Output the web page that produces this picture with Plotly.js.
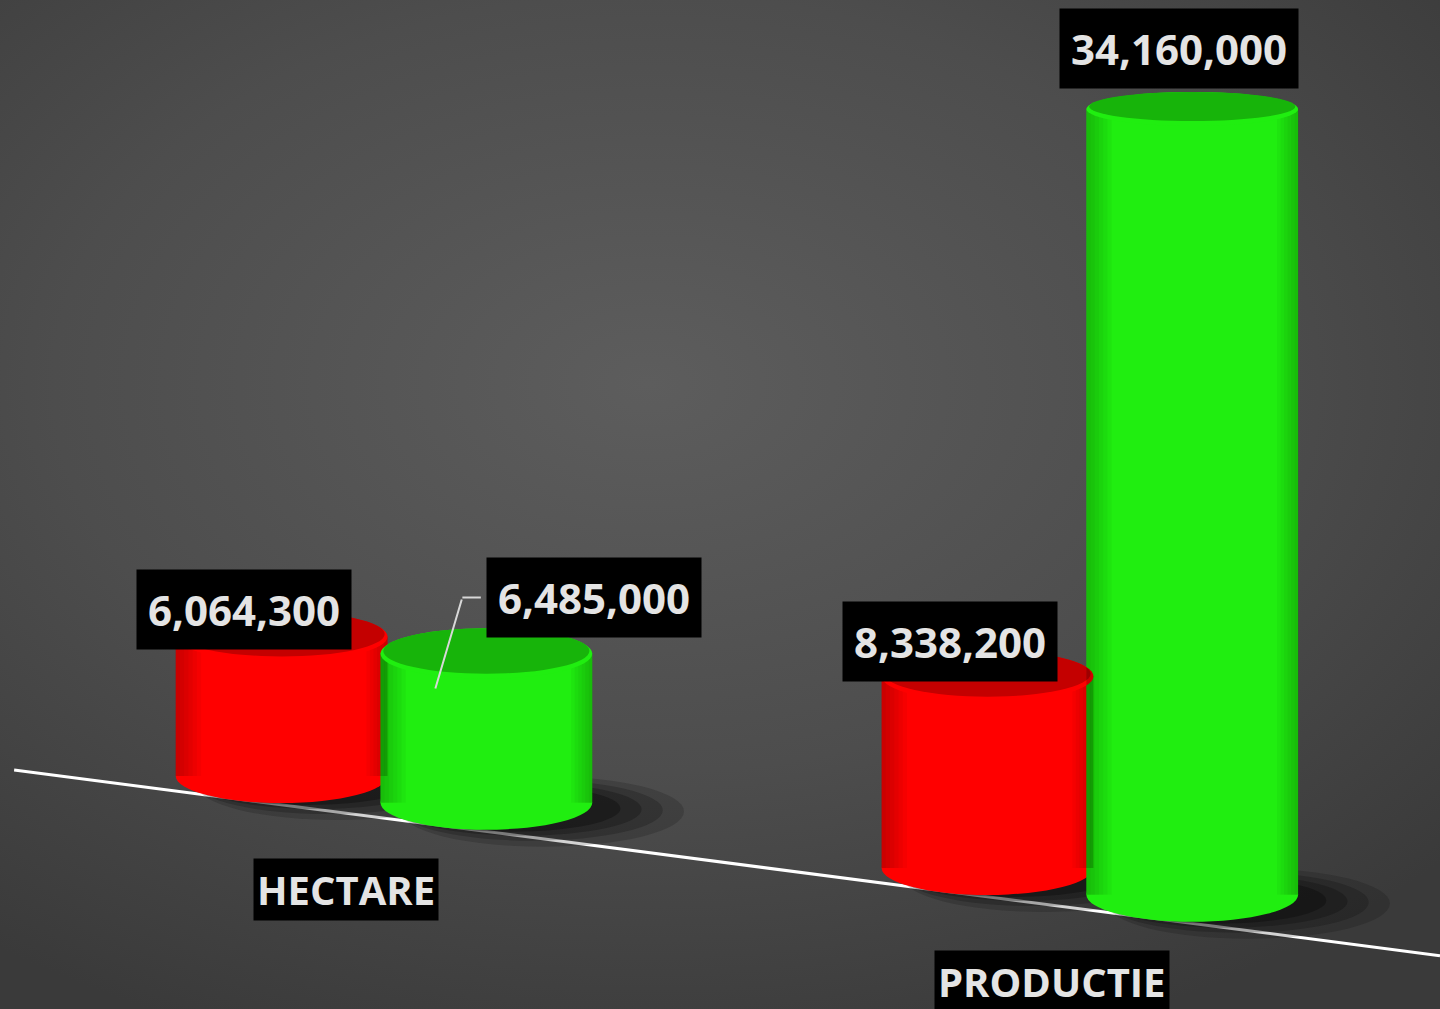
<!DOCTYPE html>
<html>
<head>
<meta charset="utf-8">
<script src="https://cdn.plot.ly/plotly-3.0.1.min.js"></script>
<style>
  html, body { margin: 0; padding: 0; width: 1440px; height: 1009px; overflow: hidden;
    background: radial-gradient(ellipse 75% 70% at 45% 38%, #5d5d5d 0%, #4d4d4d 55%, #3a3a3a 100%); }
  #chart { width: 1440px; height: 1009px; }
</style>
</head>
<body>
<div id="chart"></div>
<script>
// ---- data ----
const categories = ['HECTARE', 'PRODUCTIE'];
const seriesRed = [6064300, 8338200];
const seriesGreen = [6485000, 34160000];

// ---- styling / layout constants ----
const W = 1440, H = 1009;
const XR = [-0.544, 1.496];
const YR = [-10.13e6, 33.74e6];
const PX = (YR[1] - YR[0]) / H;        // value units per pixel (for cap ellipses)
const BAR_W = 0.30;
const OFF = 0.145;
const TILT = 4.0e6;
const baseAt = x => -TILT * (x + OFF);
const RED = '#ff0000', RED_TOP = '#c40000';
const GREEN = '#20ee10', GREEN_TOP = '#17b40a';
const FONT = 'Open Sans, DejaVu Sans, sans-serif';
const LABEL_FONT = { family: FONT, size: 42, color: '#e4e4e4', weight: 'bold' };

const idx = categories.map((c, i) => i);
const redX = idx.map(i => i - OFF);
const greenX = idx.map(i => i + OFF);
const redBase = redX.map(baseAt);
const greenBase = greenX.map(baseAt);

const traces = [
  { type: 'bar', x: redX, y: seriesRed, base: redBase, width: BAR_W,
    marker: { color: RED, line: { width: 0 } }, hoverinfo: 'skip', showlegend: false },
  { type: 'bar', x: greenX, y: seriesGreen, base: greenBase, width: BAR_W,
    marker: { color: GREEN, line: { width: 0 } }, hoverinfo: 'skip', showlegend: false }
];

const shapes = [];
const annotations = [];
const topRadius = top => Math.max(16, 27 - 10 * top / 29e6);

function oval(layer, x0, x1, y0, y1, color) {
  return { type: 'circle', layer: layer, xref: 'x', yref: 'y', x0: x0, x1: x1, y0: y0, y1: y1,
    fillcolor: color, line: { width: 0 } };
}

// floor line
shapes.push({ type: 'line', layer: 'below', xref: 'x', yref: 'y',
  x0: -0.524, x1: XR[1], y0: baseAt(-0.524) - 1.25e6, y1: baseAt(XR[1]) - 1.25e6,
  line: { color: '#ffffff', width: 3 } });

function addCylinder(xc, base, val, side, topc) {
  const top = base + val;
  const L = xc - BAR_W / 2, R = xc + BAR_W / 2;
  // soft shadow behind the foot
  [[0.13, 44, 0.18], [0.10, 38, 0.22], [0.07, 33, 0.28], [0.04, 29, 0.35]].forEach(([ext, r, a]) =>
    shapes.push(oval('below', L + 0.03, R + ext, base - r * PX, base + r * 0.6 * PX, 'rgba(10,10,10,' + a + ')')));
  // rounded foot (under the bar)
  shapes.push(oval('below', L, R, base - 27 * PX, base + 27 * PX, side));
  // side shading: darker toward both edges
  for (let k = 0; k < 6; k++) {
    const wl = 0.006 * (k + 1), wr = 0.005 * (k + 1);
    shapes.push({ type: 'rect', layer: 'above', xref: 'x', yref: 'y', x0: L, x1: L + wl, y0: base, y1: top,
      fillcolor: 'rgba(0,0,0,0.035)', line: { width: 0 } });
    shapes.push({ type: 'rect', layer: 'above', xref: 'x', yref: 'y', x0: R - wr, x1: R, y0: base, y1: top,
      fillcolor: 'rgba(0,0,0,0.035)', line: { width: 0 } });
  }
  // top cap: rim then darker lid
  const r = topRadius(top);
  shapes.push(oval('above', L, R, top - r * PX, top + r * PX, side));
  shapes.push(oval('above', L + 0.004, R - 0.004, top - (r - 5) * PX, top + r * PX, topc));
}

idx.forEach(i => {
  addCylinder(redX[i], redBase[i], seriesRed[i], RED, RED_TOP);
  addCylinder(greenX[i], greenBase[i], seriesGreen[i], GREEN, GREEN_TOP);
});

const fmt = v => v.toLocaleString('en-US');
const redShift = [[-38, 27], [-38, 35]];
idx.forEach(i => {
  annotations.push({ xref: 'x', yref: 'y', x: redX[i], y: redBase[i] + seriesRed[i],
    text: fmt(seriesRed[i]), showarrow: false, xshift: redShift[i][0], yshift: redShift[i][1],
    bgcolor: '#000000', borderpad: 11, font: LABEL_FONT });
});
// green HECTARE label + elbow leader line
const gTop0 = greenBase[0] + seriesGreen[0];
annotations.push({ xref: 'x', yref: 'y', x: greenX[0], y: gTop0,
  text: fmt(seriesGreen[0]), showarrow: false, xshift: 108, yshift: 56,
  bgcolor: '#000000', borderpad: 11, font: LABEL_FONT });
annotations.push({ xref: 'x', yref: 'y', x: greenX[0], y: gTop0, text: ' ', font: { size: 1 },
  showarrow: true, arrowhead: 0, arrowwidth: 2, arrowcolor: '#d8d8d8', standoff: 0,
  xshift: -51, yshift: -35, ax: 27, ay: -91 });
annotations.push({ xref: 'x', yref: 'y', x: greenX[0], y: gTop0, text: ' ', font: { size: 1 },
  showarrow: true, arrowhead: 0, arrowwidth: 2, arrowcolor: '#d8d8d8', standoff: 0,
  xshift: -24, yshift: 56, ax: 20, ay: 0 });
annotations.push({ xref: 'x', yref: 'y', x: greenX[1], y: greenBase[1] + seriesGreen[1],
  text: fmt(seriesGreen[1]), showarrow: false, xshift: -13, yshift: 61,
  bgcolor: '#000000', borderpad: 11, font: LABEL_FONT });

// category labels
idx.forEach(i => {
  annotations.push({ xref: 'x', yref: 'y', x: i, y: baseAt(i), text: categories[i], showarrow: false,
    xshift: -38, yshift: -100, bgcolor: '#000000', borderpad: 3,
    font: { family: FONT, size: 40, color: '#e4e4e4', weight: 'bold' } });
});

const layout = {
  width: W, height: H,
  margin: { l: 0, r: 0, t: 0, b: 0 },
  paper_bgcolor: 'rgba(0,0,0,0)', plot_bgcolor: 'rgba(0,0,0,0)',
  barmode: 'overlay',
  xaxis: { range: XR, visible: false, fixedrange: true },
  yaxis: { range: YR, visible: false, fixedrange: true },
  shapes: shapes, annotations: annotations, showlegend: false
};

Plotly.newPlot('chart', traces, layout, { displayModeBar: false, staticPlot: true });
</script>
</body>
</html>
